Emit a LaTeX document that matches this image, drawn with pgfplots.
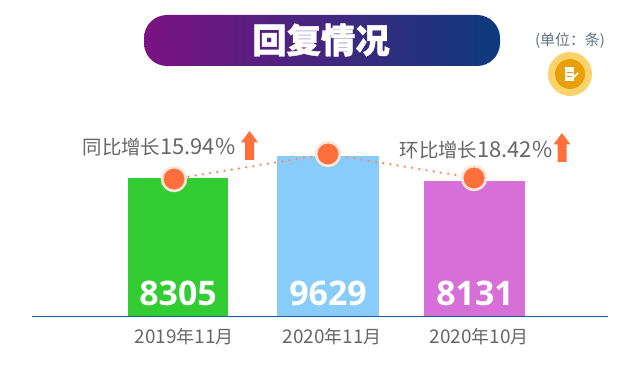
\documentclass[border=0pt]{standalone}
\usepackage{pgfplots}
\pgfplotsset{compat=1.18}
\usepackage{fontspec}
\setmainfont{Noto Sans CJK SC}
\newfontfamily\titlef[BoldFeatures={FakeBold=1.2}]{Noto Sans CJK SC}
\newfontfamily\numf{Open Sans}
\usetikzlibrary{calc}
\definecolor{cgreen}{HTML}{33CC33}
\definecolor{cblue}{HTML}{88CCFC}
\definecolor{cviolet}{HTML}{D76FD8}
\definecolor{corange}{HTML}{FF6F3C}
\definecolor{cring}{HTML}{FBE6DC}
\definecolor{cline}{HTML}{FF8A5C}
\definecolor{ctext}{HTML}{666666}
\definecolor{cunit}{HTML}{5F7383}
\definecolor{cbase}{HTML}{0F5AA5}
\definecolor{cleft}{HTML}{7C1282}
\definecolor{cright}{HTML}{0C3A7C}
\definecolor{ciconout}{HTML}{FBD36C}
\definecolor{ciconin}{HTML}{E8A008}
\newcommand{\lat}[1]{{\fontsize{22}{22}\selectfont #1}}
\newcommand{\tl}[3]{{\fontsize{19}{18}\selectfont #1}{\fontsize{18}{18}\selectfont 年}{\fontsize{19}{18}\selectfont #2}{\fontsize{18}{18}\selectfont 月}}
\begin{document}
\begin{tikzpicture}[x=1bp,y=1bp]
\useasboundingbox (-32bp,-67bp) rectangle (608bp,316bp);
\shade[left color=cleft,right color=cright,rounded corners=23bp] (112bp,250bp) rectangle (468bp,301bp);
\node[white,font=\titlef\bfseries\fontsize{34.5}{35}\selectfont] at (289bp,276bp) {回复情况};
\node[text=cunit,font=\fontsize{15}{15}\selectfont] at (538bp,275bp) {(单位：条)};
\fill[ciconout] (538bp,242bp) circle (22bp);
\fill[ciconin] (538bp,242bp) circle (15bp);
\fill[white] (533bp,235bp) rectangle (542bp,249bp);
\draw[ciconin,line width=1bp] (535bp,243bp) -- (541bp,243bp) (535bp,239bp) -- (540bp,239bp);
\draw[white,line width=1.6bp] (539bp,236bp) -- (546bp,243bp);
\begin{axis}[
  at={(0,0)},anchor=south west,
  scale only axis,width=576bp,height=316bp,
  xmin=32,xmax=608,ymin=0,ymax=19013,
  axis x line=bottom,axis y line=none,
  axis line style={-,cbase,line width=0.9bp},
  xtick={184,332,479},
  xticklabels={\tl{2019}{11}{},\tl{2020}{11}{},\tl{2020}{10}{}},
  major tick length=0pt,
  tick label style={text=ctext},
  xticklabel style={yshift=-8.5bp},
  clip=false,
]
\addplot[ybar,bar width=100bp,bar shift=0pt,fill=cgreen,draw=none] coordinates {(178,8305)};
\addplot[ybar,bar width=102bp,bar shift=0pt,fill=cblue,draw=none] coordinates {(328,9629)};
\addplot[ybar,bar width=101bp,bar shift=0pt,fill=cviolet,draw=none] coordinates {(474.5,8131)};
\addplot[cline,line width=2.6bp,line cap=round,dash pattern=on 0.01bp off 7.3bp,
  mark=none] coordinates {(174,8243)(328,9747)(474,8303)};
\addplot[draw=none,mark=*,mark size=13bp,mark options={solid,draw=cring,fill=cring}] coordinates {(174,8243)(328,9747)(474,8303)};
\addplot[draw=none,mark=*,mark size=10.2bp,mark options={solid,draw=corange,fill=corange}] coordinates {(174,8243)(328,9747)(474,8303)};
\node[white,font=\numf\bfseries\fontsize{34}{34}\selectfont] at (axis cs:178,1350) {8305};
\node[white,font=\numf\bfseries\fontsize{34}{34}\selectfont] at (axis cs:328,1350) {9629};
\node[white,font=\numf\bfseries\fontsize{34}{34}\selectfont] at (axis cs:475,1350) {8131};
\node[text=ctext,font=\fontsize{19.5}{20}\selectfont] at (axis cs:159,10170) {同比增长\lat{15.94\%}};
\node[text=ctext,font=\fontsize{19.5}{20}\selectfont] at (axis cs:476,9990) {环比增长\lat{18.42\%}};
\end{axis}
\foreach \ax/\ay in {217.5/156,530/154}{
  \fill[corange] (\ax bp-4.5bp,\ay bp) -- (\ax bp+4.5bp,\ay bp) -- (\ax bp+4.5bp,\ay bp+17.5bp) -- (\ax bp+8.5bp,\ay bp+17.5bp) -- (\ax bp,\ay bp+29bp) -- (\ax bp-8.5bp,\ay bp+17.5bp) -- (\ax bp-4.5bp,\ay bp+17.5bp) -- cycle;
}
\end{tikzpicture}
\end{document}
